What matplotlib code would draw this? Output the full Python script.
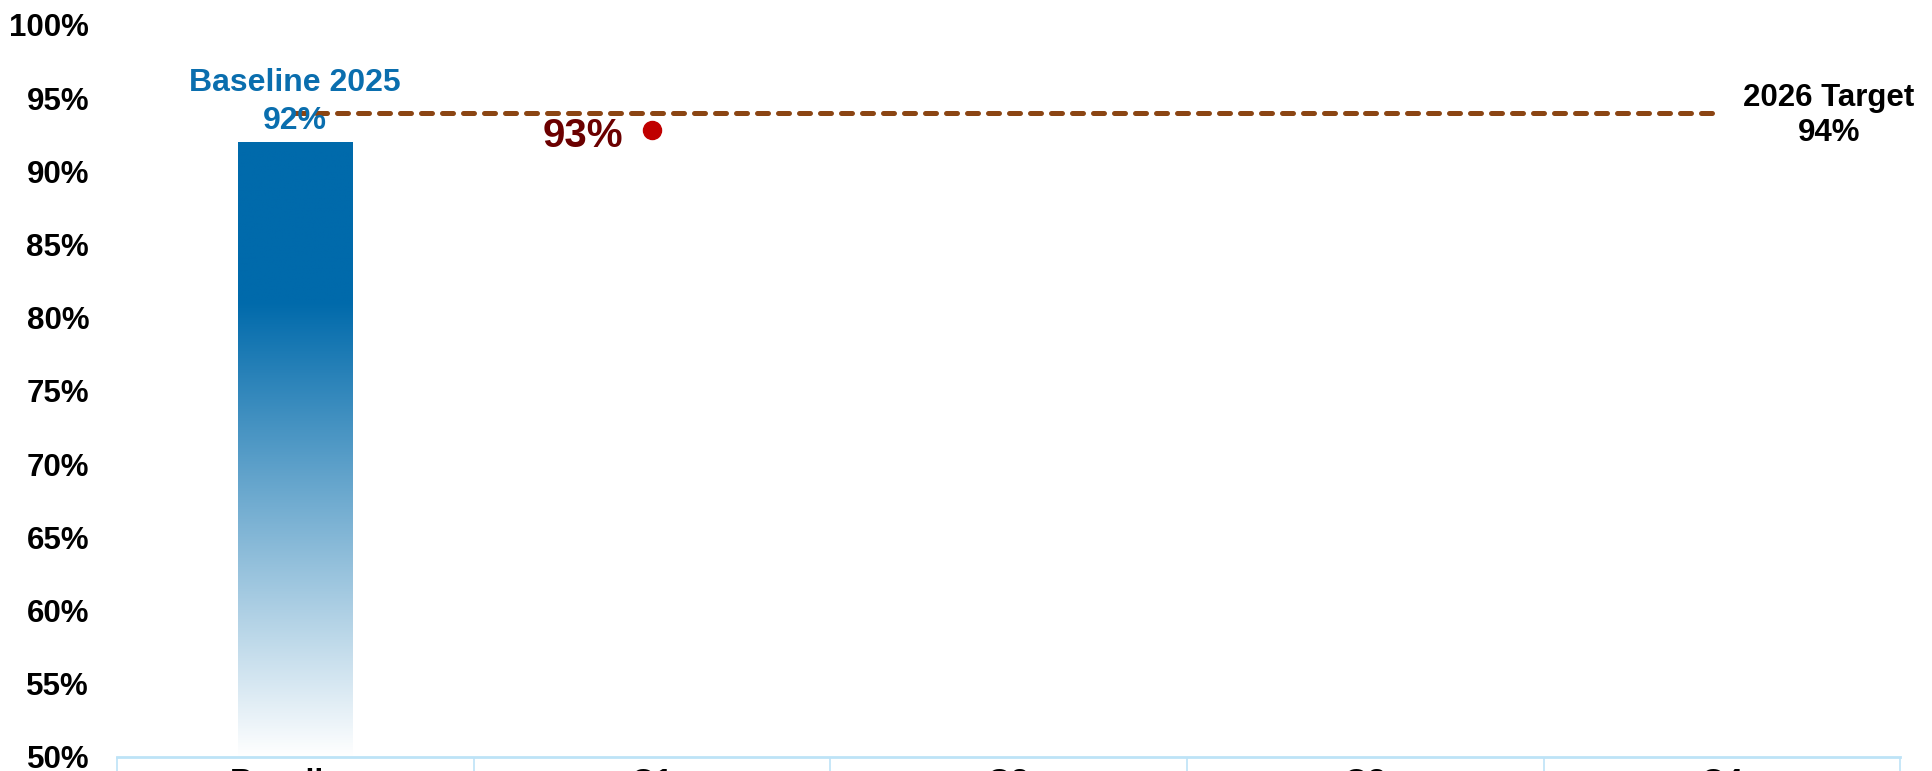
import numpy as np
import matplotlib
matplotlib.use('Agg')
import matplotlib.pyplot as plt
from matplotlib.colors import LinearSegmentedColormap

plt.rcParams['font.family'] = ['Liberation Sans', 'DejaVu Sans']
plt.rcParams['font.weight'] = 'bold'

# data
categories = ['Baseline', 'Q1', 'Q2', 'Q3', 'Q4']
baseline_value = 0.92
actual_q = ['Q1']
actual_values = [0.928]
actual_labels = ['93%']
target_values = [0.94, 0.94, 0.94, 0.94, 0.94]
yticks = [0.50, 0.55, 0.60, 0.65, 0.70, 0.75, 0.80, 0.85, 0.90, 0.95, 1.00]

fig = plt.figure(figsize=(19.33, 7.71), dpi=100)
ax = fig.add_axes([0.0605, 0.0182, 0.9225, 0.9494])

x = np.arange(len(categories))
ax.set_xlim(-0.5, len(categories) - 0.5)
ax.set_ylim(0.5, 1.0)

# baseline bar with a gradient (solid blue on top, fading to white)
bar_w = 0.32
bars = ax.bar(x[0], baseline_value, width=bar_w, color='none', edgecolor='none')
blue = np.array([0, 106, 171]) / 255.0
cmap = LinearSegmentedColormap.from_list('fade', [(0.0, (1, 1, 1)), (0.74, blue), (1.0, blue)])
grad = np.linspace(0, 1, 256).reshape(-1, 1)
im = ax.imshow(grad, cmap=cmap, aspect='auto', origin='lower',
               extent=[x[0] - bar_w / 2, x[0] + bar_w / 2, 0.5, baseline_value], zorder=2)
im.set_clip_path(bars[0])

# target line, each segment starts its own dash pattern
for i in range(len(x) - 1):
    ax.plot(x[i:i + 2], target_values[i:i + 2], color='#8B4513', lw=3.6,
            dashes=(2.2, 2.0), dash_capstyle='round', zorder=3)

# actual quarterly points
for q, v, lab in zip(actual_q, actual_values, actual_labels):
    xi = categories.index(q)
    ax.plot(xi, v, 'o', color='#C00000', ms=13, zorder=4)
    ax.annotate(lab, (xi, v), xytext=(-50, -4), textcoords='offset points',
                ha='center', va='center', fontsize=29, color='#6B0000', fontweight='bold')

# labels
ax.annotate('Baseline 2025\n%d%%' % round(baseline_value * 100), (x[0], baseline_value),
            xytext=(0, 29), textcoords='offset points', ha='center', va='center',
            fontsize=23, color='#0A6EAE', fontweight='bold', linespacing=1.35)
ax.annotate('2026 Target\n%d%%' % round(target_values[-1] * 100), (x[-1], target_values[-1]),
            xytext=(77, -2), textcoords='offset points', ha='center', va='center',
            fontsize=22.5, color='black', fontweight='bold', linespacing=1.2)

# axes styling
ax.set_yticks(yticks)
ax.set_yticklabels(['%d%%' % round(t * 100) for t in yticks], fontsize=22.5, fontweight='bold')
ax.tick_params(axis='y', length=0, pad=20)
ax.set_xticks(x)
ax.set_xticklabels(categories, fontsize=23, fontweight='bold')
ax.tick_params(axis='x', which='major', length=0, pad=8)
ax.set_xticks(np.arange(-0.5, len(categories), 1.0), minor=True)
ax.tick_params(axis='x', which='minor', direction='out', length=30, width=1.2, color='#BDE3F7')
for s in ['top', 'right', 'left']:
    ax.spines[s].set_visible(False)
ax.spines['bottom'].set_color('#BDE3F7')
ax.spines['bottom'].set_linewidth(2)

fig.savefig('out.png', dpi=100)
